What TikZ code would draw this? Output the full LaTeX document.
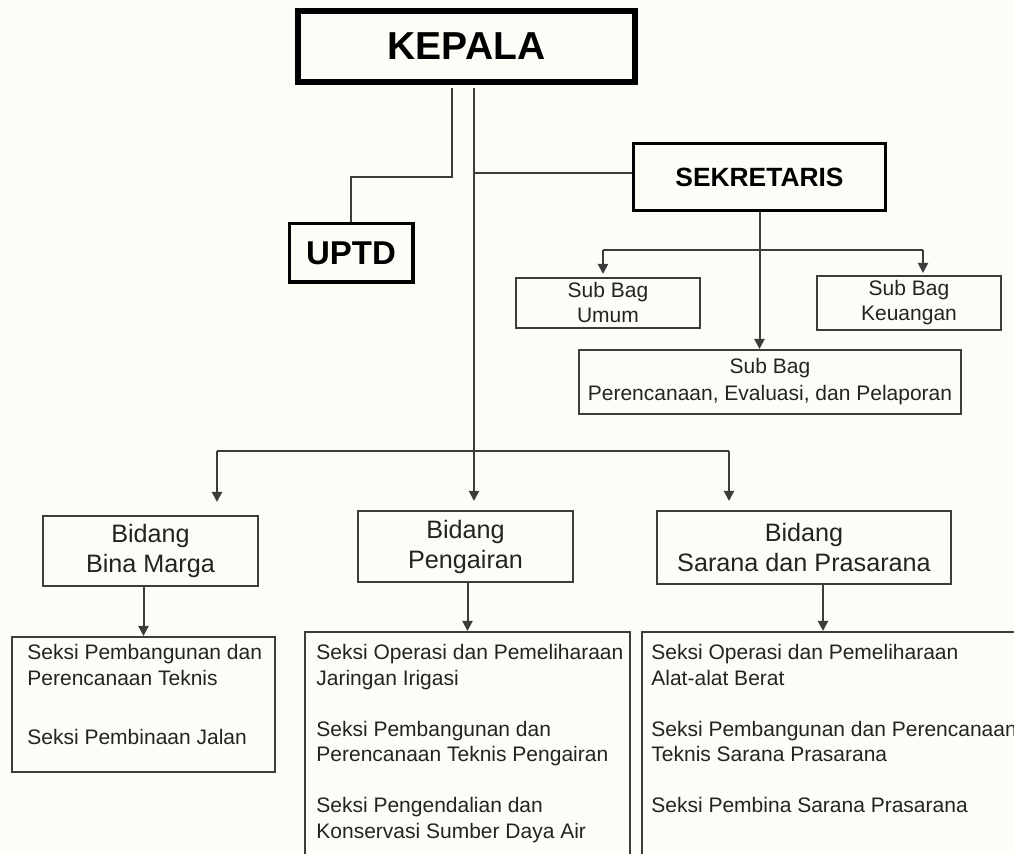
\documentclass[tikz,border=0pt]{standalone}
\usepackage{fontspec}
\setmainfont{Liberation Sans}
\usetikzlibrary{arrows.meta}
\definecolor{latar}{RGB}{253,253,248}
\definecolor{garis}{RGB}{60,60,60}
\definecolor{teks}{RGB}{35,35,35}

\begin{document}
\begin{tikzpicture}[x=0.5pt,y=-0.5pt,
    kotak/.style={draw=garis,line width=1pt,inner sep=0pt,align=center,text=teks},
    subbag/.style={kotak,font=\fontsize{10.5}{12.5}\selectfont},
    bidang/.style={kotak,font=\fontsize{12.6}{15}\selectfont},
    seksi/.style={inner sep=0pt,align=left,anchor=north west,text=teks,
        font=\fontsize{10.5}{12.75}\selectfont},
    judul/.style={draw=black,inner sep=0pt,text=black},
    link/.style={draw=garis,line width=1pt},
    panah/.style={link,-{Triangle[length=5pt,width=5pt]}}]
    % Latar
    \useasboundingbox (0,0) rectangle (1014,854);
    \fill[latar] (0,0) rectangle (1014,854);

    % Pimpinan
    \node[judul,line width=3.2pt,minimum width=168.3pt,minimum height=35.3pt,
        font=\fontsize{19.5}{22}\bfseries] (kepala) at (466.5,46.5) {KEPALA};
    \node[judul,line width=1.75pt,minimum width=61.75pt,minimum height=29.25pt,
        font=\fontsize{16.5}{19}\bfseries] (uptd) at (351,253) {UPTD};
    \node[judul,line width=1.35pt,minimum width=126pt,minimum height=33.5pt,
        font=\fontsize{13.2}{15}\bfseries] (sek) at (759.5,177) {SEKRETARIS};

    % Sub bagian
    \node[subbag,minimum width=92pt,minimum height=25pt] (sbumum) at (608,303) {Sub Bag\\Umum};
    \node[subbag,minimum width=92pt,minimum height=27pt] (sbkeu) at (909,303) {Sub Bag\\Keuangan};
    \node[subbag,minimum width=191pt,minimum height=32pt,font=\fontsize{10.5}{13.5}\selectfont]
        (sbpep) at (770,382) {Sub Bag\\ Perencanaan, Evaluasi, dan Pelaporan};

    % Bidang
    \node[bidang,minimum width=107.5pt,minimum height=35pt] (bbm) at (150.5,551) {Bidang\\Bina Marga};
    \node[bidang,minimum width=107.5pt,minimum height=35.5pt] (bpg) at (465.5,546.5) {Bidang\\Pengairan};
    \node[bidang,minimum width=147pt,minimum height=36.5pt] (bsp) at (804,547.5) {Bidang\\Sarana dan Prasarana};

    % Kotak seksi
    \node[kotak,minimum width=131.5pt,minimum height=67.5pt] (sksbm) at (143.5,704.5) {};
    \node[kotak,minimum width=162.5pt,minimum height=112pt] (skspg) at (467.5,744) {};
    \node[kotak,minimum width=194pt,minimum height=112pt] (sksp) at (836,744) {};

    \node[seksi] (tbm) at (27,644) {Seksi Pembangunan dan\\Perencanaan Teknis\\[16.75pt]Seksi Pembinaan Jalan};
    \node[seksi] (tpg) at (316,644) {Seksi Operasi dan Pemeliharaan\\Jaringan Irigasi\\[12.75pt]Seksi Pembangunan dan\\Perencanaan Teknis Pengairan\\[12.75pt]Seksi Pengendalian dan\\Konservasi Sumber Daya Air};
    \node[seksi] (tsp) at (651,644) {Seksi Operasi dan Pemeliharaan\\Alat-alat Berat\\[12.75pt]Seksi Pembangunan dan Perencanaan\\Teknis Sarana Prasarana\\[12.75pt]Seksi Pembina Sarana Prasarana};

    % Titik cabang
    \coordinate (kl) at (452,177);
    \coordinate (kr) at (474,173);
    \coordinate (sl) at (603,250);
    \coordinate (sr) at (923,250);
    \coordinate (bl) at (217,451);
    \coordinate (br) at (729,451);
    \coordinate (bspd) at ([xshift=9.5pt]bsp.south);

    % Garis dari kepala
    \draw[link,shorten <=1.6pt] (kepala.south -| kl) -- (kl) -| (uptd.north);
    \draw[panah,shorten <=1.6pt,shorten >=4.5pt] (kepala.south -| kr) -- (kr |- bpg.north);
    \draw[link] (kr) -- (kr -| sek.west);

    % Garis dari sekretaris
    \draw[panah] (sek.south) -- (sek.south |- sbpep.north);
    \draw[link] (sl) -- (sr);
    \draw[panah,shorten >=1.5pt] (sl) -- (sl |- sbumum.north);
    \draw[panah,shorten >=1pt] (sr) -- (sr |- sbkeu.north);

    % Garis ke bidang
    \draw[link] (bl) -- (br);
    \draw[panah,shorten >=6.5pt] (bl) -- (bl |- bbm.north);
    \draw[panah,shorten >=4.5pt] (br) -- (br |- bsp.north);

    % Garis ke seksi
    \draw[panah] (bbm.south -| sksbm.north) -- (sksbm.north);
    \draw[panah] (bpg.south -| skspg.north) -- (skspg.north);
    \draw[panah] (bspd) -- (bspd |- sksp.north);
\end{tikzpicture}
\end{document}
